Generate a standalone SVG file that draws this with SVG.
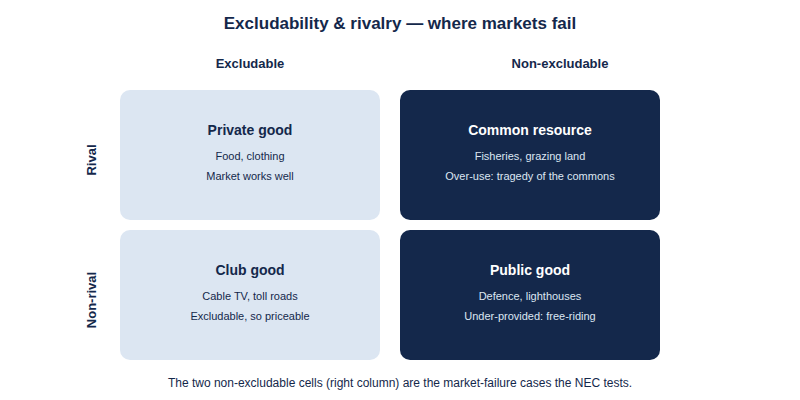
<svg xmlns="http://www.w3.org/2000/svg" width="800" height="400" viewBox="0 0 800 400">
<style>
text{font-family:"Liberation Sans",Arial,sans-serif;text-anchor:middle}
.title{font-size:17px;font-weight:bold;fill:#14284b}
.axis{font-size:13px;font-weight:bold;fill:#14284b}
.light rect{fill:#dce6f2}
.dark rect{fill:#14284b}
.h{font-size:14px;font-weight:bold}
.s{font-size:11px}
.light text{fill:#14284b}
.dark .h{fill:#ffffff}
.dark .s{fill:#dce6f2}
.foot{font-size:12px;fill:#14284b}
</style>
<rect width="800" height="400" fill="#ffffff"/>
<text class="title" x="400" y="29">Excludability &amp; rivalry — where markets fail</text>
<text class="axis" x="250" y="68">Excludable</text>
<text class="axis" x="560" y="68">Non-excludable</text>
<text class="axis" transform="translate(96 160) rotate(-90)">Rival</text>
<text class="axis" transform="translate(96 300) rotate(-90)">Non-rival</text>
<g id="private" class="light">
<rect x="120" y="90" width="260" height="130" rx="10"/>
<text class="h" x="250" y="135">Private good</text>
<text class="s" x="250" y="160">Food, clothing</text>
<text class="s" x="250" y="180">Market works well</text>
</g>
<g id="common" class="dark">
<rect x="400" y="90" width="260" height="130" rx="10"/>
<text class="h" x="530" y="135">Common resource</text>
<text class="s" x="530" y="160">Fisheries, grazing land</text>
<text class="s" x="530" y="180">Over-use: tragedy of the commons</text>
</g>
<g id="club" class="light">
<rect x="120" y="230" width="260" height="130" rx="10"/>
<text class="h" x="250" y="275">Club good</text>
<text class="s" x="250" y="300">Cable TV, toll roads</text>
<text class="s" x="250" y="320">Excludable, so priceable</text>
</g>
<g id="public" class="dark">
<rect x="400" y="230" width="260" height="130" rx="10"/>
<text class="h" x="530" y="275">Public good</text>
<text class="s" x="530" y="300">Defence, lighthouses</text>
<text class="s" x="530" y="320">Under-provided: free-riding</text>
</g>
<g id="connectors"></g>
<text class="foot" x="400" y="387">The two non-excludable cells (right column) are the market-failure cases the NEC tests.</text>
</svg>
